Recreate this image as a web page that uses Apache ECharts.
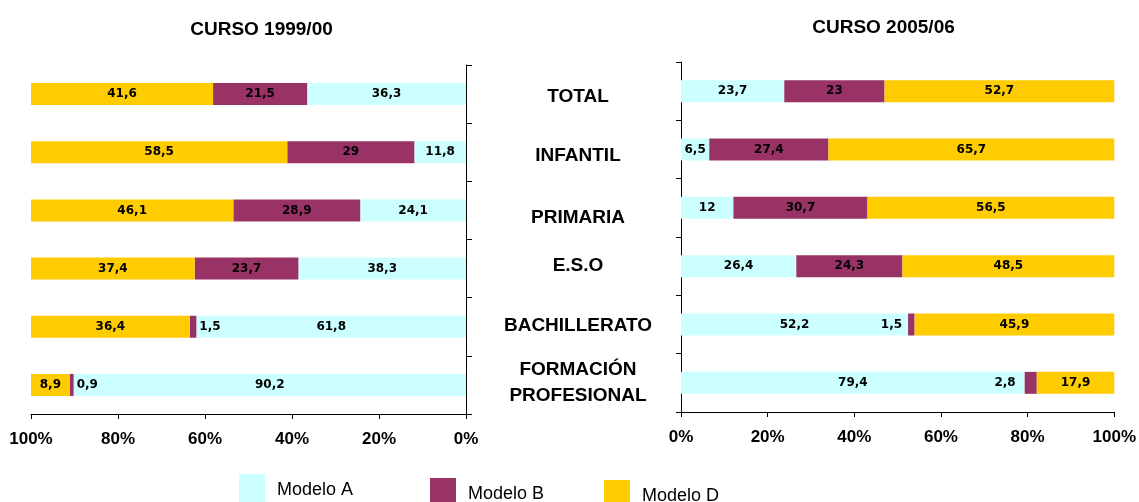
<!DOCTYPE html>
<html>
<head>
<meta charset="utf-8">
<script src="https://cdn.jsdelivr.net/npm/echarts@6/dist/echarts.min.js"></script>
<style>
html,body{margin:0;padding:0;background:#fff;}
#chart{width:1139px;height:502px;}
</style>
</head>
<body>
<div id="chart"></div>
<script>
const categories = ['TOTAL', 'INFANTIL', 'PRIMARIA', 'E.S.O', 'BACHILLERATO', 'FORMACIÓN\nPROFESIONAL'];
const modeloA_1999 = [36.3, 11.8, 24.1, 38.3, 61.8, 90.2];
const modeloB_1999 = [21.5, 29, 28.9, 23.7, 1.5, 0.9];
const modeloD_1999 = [41.6, 58.5, 46.1, 37.4, 36.4, 8.9];
const modeloA_2005 = [23.7, 6.5, 12, 26.4, 52.2, 79.4];
const modeloB_2005 = [23, 27.4, 30.7, 24.3, 1.5, 2.8];
const modeloD_2005 = [52.7, 65.7, 56.5, 48.5, 45.9, 17.9];
const xTicks = [0, 20, 40, 60, 80, 100];
const titles = ['CURSO 1999/00', 'CURSO 2005/06'];
const seriesNames = ['Modelo A', 'Modelo B', 'Modelo D'];

const colors = {'Modelo A': '#CCFFFF', 'Modelo B': '#993366', 'Modelo D': '#FFCC00'};
const labelFont = {fontFamily: 'DejaVu Sans', fontWeight: 'bold', fontSize: 12, color: '#000'};

// 100% stacked: normalise each category to its total, keep raw value for labels
function build(arrs, labelOverrides) {
  const sums = categories.map((c, i) => arrs.reduce((s, a) => s + a[i], 0));
  return arrs.map((arr, k) => arr.map((v, i) => {
    const item = {value: v / sums[i] * 100, raw: v};
    const ov = labelOverrides[k] && labelOverrides[k][i];
    if (ov) item.label = ov;
    return item;
  }));
}
const left = build([modeloA_1999, modeloB_1999, modeloD_1999],
  [null, {4: {position: 'right', distance: 3}, 5: {position: 'right', distance: 3}}, null]);
const right = build([modeloA_2005, modeloB_2005, modeloD_2005],
  [null, {4: {position: 'left', distance: 6}, 5: {position: 'left', distance: 9}}, null]);

function fmt(p) { return String(p.data.raw).replace('.', ','); }

const series = [];
[left, right].forEach((set, g) => {
  set.forEach((data, k) => {
    series.push({
      name: seriesNames[k], type: 'bar', stack: 'g' + g,
      xAxisIndex: g, yAxisIndex: g, barWidth: 22,
      itemStyle: {color: colors[seriesNames[k]]},
      label: Object.assign({show: true, position: 'inside', formatter: fmt}, labelFont),
      data: data, animation: false
    });
  });
});

// vertical nudges of the middle category labels (visual layout only)
const catStyle = {fontFamily: 'Liberation Sans', fontWeight: 'bold', fontSize: 19, color: '#000', lineHeight: 26};
const catRich = {
  p0: Object.assign({}, catStyle, {padding: [12, 0, 0, 0]}),
  p1: Object.assign({}, catStyle, {padding: [13, 0, 0, 0]}),
  p2: Object.assign({}, catStyle, {padding: [20, 0, 0, 0]}),
  p3: Object.assign({}, catStyle, {padding: [0, 0, 0, 0]}),
  p4: Object.assign({}, catStyle, {padding: [3, 0, 0, 0]}),
  p5: Object.assign({}, catStyle, {padding: [0, 0, 0, 0]})
};
function catFmt(v, i) {
  return v.split('\n').map(s => '{p' + i + '|' + s + '}').join('\n');
}

const axisLineStyle = {lineStyle: {color: '#000', width: 1}};
const option = {
  animation: false,
  title: [
    {text: titles[0], left: 256.5, top: 15.5, textAlign: 'center',
     textStyle: {fontFamily: 'Liberation Sans', fontWeight: 'bold', fontSize: 19, color: '#000'}},
    {text: titles[1], left: 878.5, top: 13.5, textAlign: 'center',
     textStyle: {fontFamily: 'Liberation Sans', fontWeight: 'bold', fontSize: 19, color: '#000'}}
  ],
  legend: [
    {data: ['Modelo A'], left: 234, top: 469},
    {data: ['Modelo B'], left: 425, top: 473},
    {data: ['Modelo D'], left: 599, top: 475}
  ].map(l => Object.assign(l, {
    orient: 'horizontal', icon: 'rect', itemWidth: 26, itemHeight: 33,
    selectedMode: false,
    textStyle: {fontFamily: 'Liberation Sans', fontSize: 18, color: '#000', padding: [4, 0, 0, 7]}
  })),
  grid: [
    {left: 31, right: 1139 - 466, top: 65, bottom: 502 - 414},
    {left: 681, right: 1139 - 1115, top: 62, bottom: 502 - 412}
  ],
  xAxis: [0, 1].map(g => ({
    type: 'value', gridIndex: g, min: xTicks[0], max: xTicks[xTicks.length - 1], interval: 20,
    inverse: g === 0,
    axisLine: Object.assign({show: true}, axisLineStyle),
    axisTick: Object.assign({show: true, length: 5}, axisLineStyle),
    splitLine: {show: false},
    axisLabel: {formatter: '{value}%', margin: 17, fontFamily: 'Liberation Sans', fontWeight: 'bold', fontSize: 17, color: '#000'}
  })),
  yAxis: [
    {type: 'category', gridIndex: 0, data: categories, inverse: true, position: 'right',
     axisLine: Object.assign({show: true}, axisLineStyle),
     axisTick: Object.assign({show: true, length: 6}, axisLineStyle),
     axisLabel: {show: false}},
    {type: 'category', gridIndex: 1, data: categories, inverse: true, position: 'left',
     axisLine: Object.assign({show: true}, axisLineStyle),
     axisTick: Object.assign({show: true, length: 5}, axisLineStyle),
     axisLabel: {show: true, align: 'center', margin: 103, formatter: catFmt, rich: catRich,
       fontFamily: 'Liberation Sans', fontWeight: 'bold', fontSize: 19, color: '#000', lineHeight: 26}}
  ],
  series: series
};
const chart = echarts.init(document.getElementById('chart'), null, {renderer: 'canvas'});
chart.setOption(option);
</script>
</body>
</html>
